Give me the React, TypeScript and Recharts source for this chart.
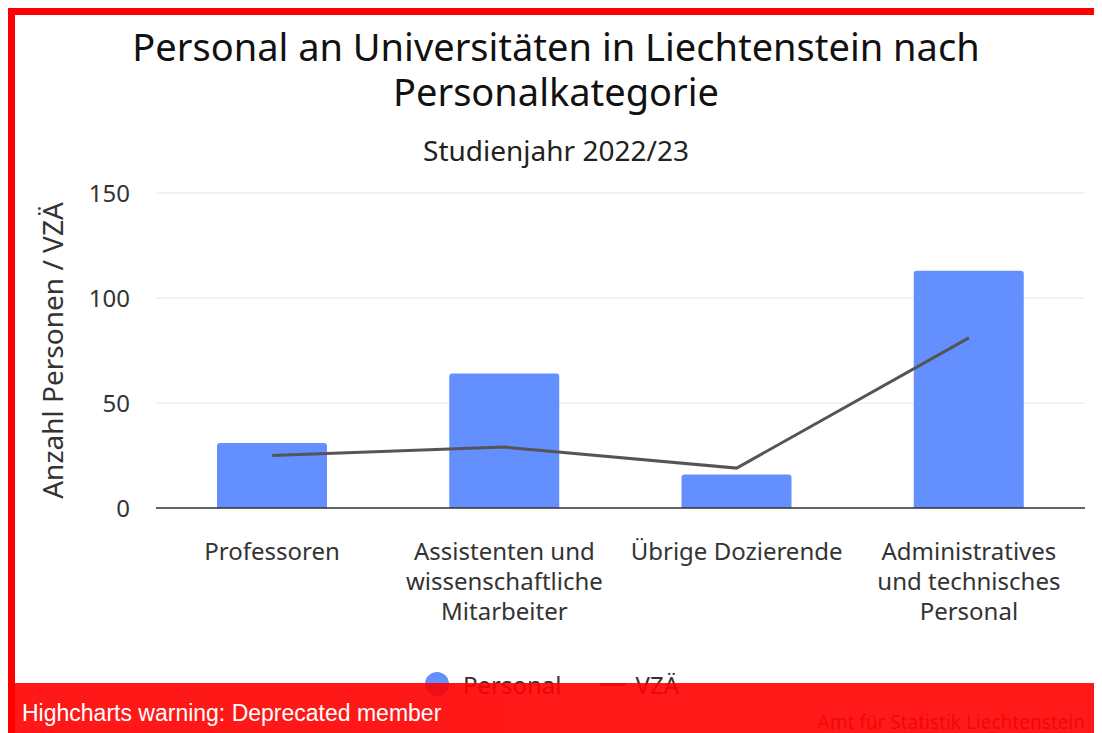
import { ComposedChart, Bar, Line, XAxis, YAxis, CartesianGrid } from 'recharts';

const categories = [
  'Professoren',
  'Assistenten und wissenschaftliche Mitarbeiter',
  'Übrige Dozierende',
  'Administratives und technisches Personal',
];
const tickLines = [
  ['Professoren'],
  ['Assistenten und', 'wissenschaftliche', 'Mitarbeiter'],
  ['Übrige Dozierende'],
  ['Administratives', 'und technisches', 'Personal'],
];
const personal = [31, 64, 16, 113];
const vza = [25, 29, 19, 81];
const yTicks = [0, 50, 100, 150];

const data = categories.map((name, i) => ({ name, personal: personal[i], vza: vza[i] }));

const FONT = '"Noto Sans", sans-serif';
const BLUE = '#648fff';
const GREY_LINE = '#555555';

const CategoryTick = (props: any) => {
  const { x, y, index } = props;
  const lines = tickLines[index] || [];
  return (
    <text x={x} y={y} textAnchor="middle" fill="#333" fontSize={24} fontFamily={FONT}>
      {lines.map((l, i) => (
        <tspan key={i} x={x} dy={i === 0 ? 52 : 30}>
          {l}
        </tspan>
      ))}
    </text>
  );
};

const renderYLabel = (props: any) => {
  const vb = props.viewBox || {};
  const cx = 37;
  const cy = (vb.y ?? 178) + (vb.height ?? 315) / 2;
  return (
    <text
      x={cx}
      y={cy}
      transform={`rotate(-90, ${cx}, ${cy})`}
      textAnchor="middle"
      dominantBaseline="central"
      fill="#333"
      fontSize={28}
      fontFamily={FONT}
    >
      Anzahl Personen / VZÄ
    </text>
  );
};

const titleStyle = {
  position: 'absolute' as const,
  left: 0,
  width: 1082,
  textAlign: 'center' as const,
  fontSize: 38,
  lineHeight: '44px',
  color: '#111',
};

export default function App() {
  return (
    <div style={{ position: 'relative', width: 1094, height: 725, overflow: 'hidden', fontFamily: FONT }}>
      <div
        style={{
          position: 'absolute',
          left: 0,
          top: 0,
          width: 1082,
          height: 740,
          border: '7px solid #ff0000',
          background: '#fff',
        }}
      >
        <div style={{ ...titleStyle, top: 9 }}>Personal an Universitäten in Liechtenstein nach</div>
        <div style={{ ...titleStyle, top: 54 }}>Personalkategorie</div>
        <div
          style={{
            position: 'absolute',
            top: 117,
            left: 0,
            width: 1082,
            textAlign: 'center',
            fontSize: 28,
            lineHeight: '36px',
            color: '#222',
          }}
        >
          Studienjahr 2022/23
        </div>

        <ComposedChart
          width={1082}
          height={718}
          data={data}
          margin={{ top: 178, right: 12, bottom: 0, left: 0 }}
          barCategoryGap={0}
        >
          <CartesianGrid vertical={false} stroke="#e6e6e6" />
          <XAxis
            dataKey="name"
            axisLine={{ stroke: '#333', strokeWidth: 1.5 }}
            tickLine={false}
            tickSize={0}
            tickMargin={0}
            interval={0}
            tick={<CategoryTick />}
            height={225}
          />
          <YAxis
            domain={[0, 150]}
            ticks={yTicks}
            width={141}
            axisLine={false}
            tickLine={false}
            tickSize={0}
            tickMargin={26}
            tick={{ fill: '#333', fontSize: 24, fontFamily: FONT }}
            label={renderYLabel}
          />
          <Bar dataKey="personal" name="Personal" fill={BLUE} barSize={110} radius={[3, 3, 0, 0]} isAnimationActive={false} />
          <Line
            dataKey="vza"
            name="VZÄ"
            type="linear"
            stroke={GREY_LINE}
            strokeWidth={3}
            dot={false}
            activeDot={false}
            isAnimationActive={false}
          />
        </ComposedChart>

        <div
          style={{
            position: 'absolute',
            top: 654,
            left: 0,
            width: 1082,
            display: 'flex',
            justifyContent: 'center',
            alignItems: 'center',
            fontSize: 24,
            color: '#333',
            height: 30,
          }}
        >
          <span style={{ display: 'inline-block', width: 24, height: 24, borderRadius: 12, background: BLUE, marginRight: 14, marginLeft: -8 }} />
          <span style={{ marginRight: 38 }}>Personal</span>
          <span style={{ display: 'inline-block', width: 26, height: 3, background: GREY_LINE, marginRight: 10 }} />
          <span>VZÄ</span>
        </div>

        <div
          style={{
            position: 'absolute',
            top: 697,
            right: 12,
            fontSize: 19,
            lineHeight: '20px',
            color: '#555',
          }}
        >
          Amt für Statistik Liechtenstein
        </div>
      </div>

      <div
        style={{
          position: 'absolute',
          left: 0,
          top: 675,
          width: 1089,
          height: 50,
          background: '#ff0000',
          opacity: 0.9,
          color: '#fff',
          fontFamily: '"Liberation Sans", Arial, sans-serif',
          fontSize: 23,
          lineHeight: '60px',
          paddingLeft: 14,
          boxSizing: 'border-box',
        }}
      >
        Highcharts warning: Deprecated member
      </div>
    </div>
  );
}
